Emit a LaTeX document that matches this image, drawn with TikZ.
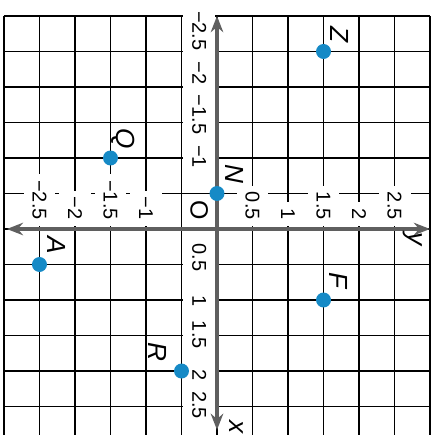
\documentclass[tikz,border=0pt]{standalone}
\usepackage{fontspec}
\setmainfont{Liberation Sans}
\usetikzlibrary{arrows.meta, calc}
\definecolor{ptblue}{RGB}{22,138,198}
\definecolor{axisgrey}{RGB}{95,95,95}
\tikzset{
    my-grid/.style={
        line width=1.3pt, black
    },
    my-axis/.style={
        line width=3.5pt, axisgrey, {Stealth[length=13pt, width=10pt]}-{Stealth[length=13pt, width=10pt]}
    },
    my-point/.style={
        fill=ptblue, shape=circle, minimum size=12pt, inner sep=0pt
    },
    my-name/.style={
        font=\fontsize{21}{21}\selectfont\itshape, inner sep=0pt
    },
    my-tick/.style={
        fill=white, inner xsep=5pt, inner ysep=0pt, minimum height=0.9cm, font=\fontsize{16}{16}\selectfont
    },
}

\begin{document}
\begin{tikzpicture}[x=2cm, y=2cm, rotate=-90, transform shape]

        \useasboundingbox (-3.225,-3.056) rectangle (2.9,3.07);
        \clip (-3.225,-3.056) rectangle (2.9,3.07);

        % GRID
        \foreach \k in {-3,-2.5,...,3} {
            \draw[my-grid] (\k,-3) -- (\k,3);
            \draw[my-grid] (-3,\k) -- (3,\k);
        }

        % TICK LABELS ON THE Y AXIS
        \foreach \v/\t [count=\i] in {-2.5/−2.5, -2/−2, -1.5/−1.5, -1/−1, 0.5/0.5, 1/1, 1.5/1.5, 2/2, 2.5/2.5}
            \node[my-tick, anchor=east] (YT\i) at (-0.04,\v) {\t};

        % TICK LABELS ON THE X AXIS
        \foreach \p/\t [count=\i] in {-2.79/−2.5, -2.2/−2, -1.61/−1.5, -1.02/−1, 0.4/0.5, 1.01/1, 1.49/1.5, 2.06/2, 2.48/2.5}
            \node[my-tick] (XT\i) at (\p,-0.25) {\t};
        \node[font=\fontsize{20}{20}\selectfont] (ORIGIN) at (-0.27,-0.25) {O};

        % AXES
        \coordinate (XMIN) at (-3,0);
        \coordinate (XMAX) at (2.83,0);
        \coordinate (YMIN) at (0,-2.96);
        \coordinate (YMAX) at (0,3);
        \draw[my-axis] (XMIN) -- (XMAX);
        \draw[my-axis] (YMIN) -- (YMAX);
        \node[my-name] (XNAME) at ($(XMAX) + (-0.04,0.28)$) {x};
        \node[my-name] (YNAME) at ($(YMAX) + (0.14,-0.25)$) {y};

        % POINTS
        \node[my-point] (Z) at (-2.5,1.5)  {};
        \node[my-point] (Q) at (-1,-1.5)   {};
        \node[my-point] (N) at (-0.5,0)    {};
        \node[my-point] (A) at (0.5,-2.5)  {};
        \node[my-point] (F) at (1,1.5)     {};
        \node[my-point] (R) at (2,-0.5)    {};

        % POINT NAMES
        \node[my-name] (ZNAME) at ($(Z) + (-0.24,0.22)$)  {Z};
        \node[my-name] (QNAME) at ($(Q) + (-0.27,0.18)$)  {Q};
        \node[my-name] (NNAME) at ($(N) + (-0.27,0.25)$)  {N};
        \node[my-name] (ANAME) at ($(A) + (-0.27,0.24)$)  {A};
        \node[my-name] (FNAME) at ($(F) + (-0.28,0.21)$)  {F};
        \node[my-name] (RNAME) at ($(R) + (-0.27,-0.34)$) {R};

    \end{tikzpicture}
\end{document}
